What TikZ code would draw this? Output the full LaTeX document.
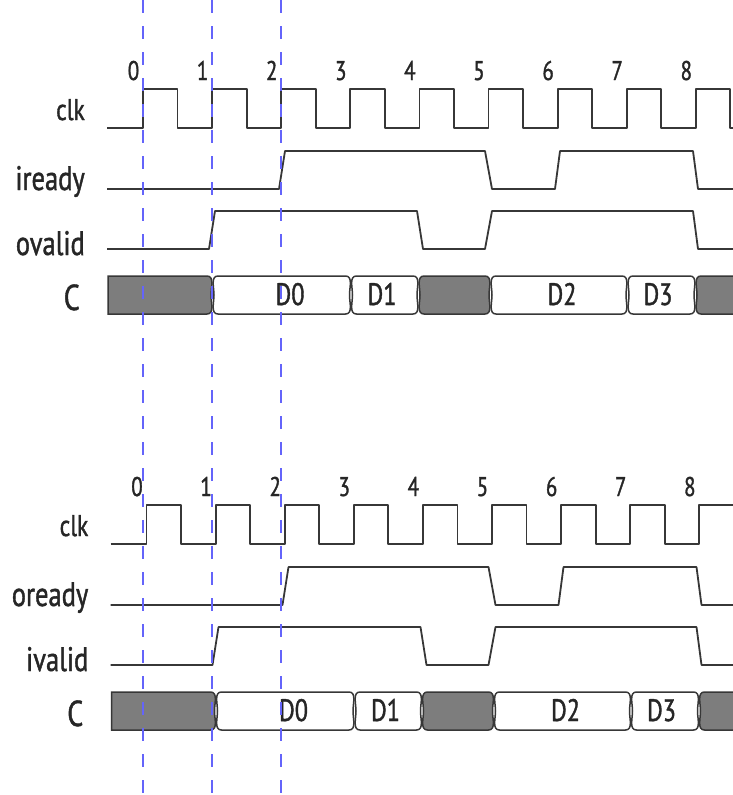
\documentclass[tikz,border=0pt]{standalone}
\usepackage{fontspec}
\setmainfont{PT Sans}[FakeStretch=0.78, FakeBold=1.2]
\definecolor{guideblue}{RGB}{100,100,250}
\definecolor{wavegray}{RGB}{55,55,55}
\definecolor{busgray}{RGB}{125,125,125}
\usepackage{tikz}
\usetikzlibrary{calc}

\begin{document}
\begin{tikzpicture}[x=1pt, y=-1pt,
  wave/.style={draw=wavegray, line width=1.8pt, line join=round},
  seg/.style={draw=wavegray, line width=1.5pt, fill=white},
  idle/.style={seg, fill=busgray},
  guide/.style={guideblue, line width=1.8pt, dash pattern=on 13pt off 13pt},
  sig/.style={anchor=base east, inner sep=0pt, text=black!85, font=\fontsize{34}{37}\selectfont},
  tick/.style={anchor=base, inner sep=0pt, text=black!85, font=\fontsize{27}{30}\selectfont},
  word/.style={anchor=base, inner sep=0pt, text=black!85, font=\fontsize{31}{34}\selectfont},
]
  \useasboundingbox (0,0) rectangle (733,795);
  \clip (0,0) rectangle (733,795);
  \foreach \dx/\dy/\rdy/\vld [count=\n] in {0/0/iready/ovalid, 3.5/416/oready/ivalid}{
    \begin{scope}[shift={(\dx,\dy)}]
      % signal names
      \node[sig, font=\fontsize{30}{33}\selectfont] (clk\n) at (85,120) {clk};
      \node[sig] (rdy\n) at (85,190) {\rdy};
      \node[sig] (vld\n) at (85,255) {\vld};
      \node[sig, font=\fontsize{36}{39}\selectfont] (bus\n) at (80,310) {C};
      % clock and cycle numbers
      \draw[wave] (107,128) foreach \k in {0,...,8}{
        -- ({143+69.1*\k},128) -- ++(0,-39) -- ++(34.5,0) -- ++(0,39)} -- ++(8,0);
      \foreach \k in {0,...,8}
        \node[tick] (t\n-\k) at ({133.5+69.1*\k},80) {\k};
      % handshake
      \draw[wave] (107,189) -- (279,189) -- (285,151) -- (485,151) -- (492,189)
        -- (555,189) -- (560,151) -- (693,151) -- (698,189) -- (745,189);
      \draw[wave] (107,249) -- (209,249) -- (215,211) -- (417,211) -- (423,249)
        -- (485,249) -- (492,211) -- (693,211) -- (698,249) -- (745,249);
      % data bus
      \draw[idle] (108,276) -- (207,276) to[out=0,in=90] (211,295)
        to[out=-90,in=0] (207,314) -- (108,314) -- cycle;
      \foreach \l/\r/\kind in {214/349.5/seg, 352.5/417/seg, 420/489/idle,
                               492/626/seg, 629/694/seg, 697/760/idle}
        \draw[\kind] ({\l+4},276) -- ({\r-4},276) to[out=0,in=90] (\r,295)
          to[out=-90,in=0] ({\r-4},314) -- ({\l+4},314) to[out=180,in=-90] (\l,295)
          to[out=90,in=180] cycle;
      \node[word] (dat\n-0) at (290,305) {D0};
      \node[word] (dat\n-1) at (382,305) {D1};
      \node[word] (dat\n-2) at (562,305) {D2};
      \node[word] (dat\n-3) at (658,305) {D3};
    \end{scope}
  }
  % cycle markers
  \foreach \x in {143,212,281}
    \draw[guide] (\x,0) -- (\x,795);
\end{tikzpicture}
\end{document}
